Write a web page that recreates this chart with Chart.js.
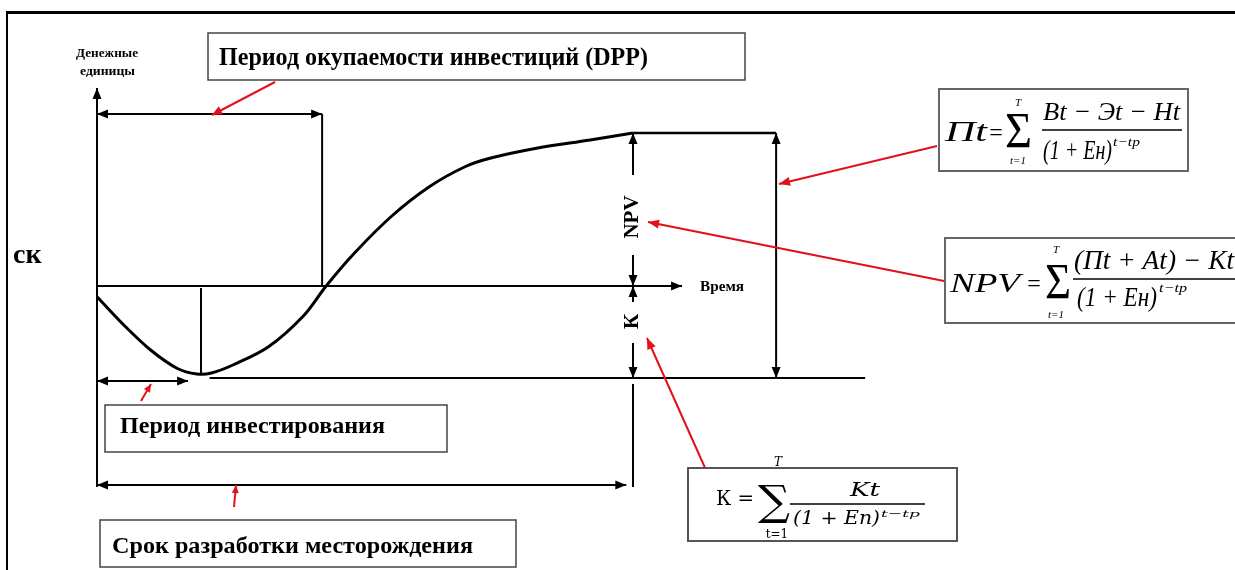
<!DOCTYPE html>
<html><head><meta charset="utf-8">
<script src="https://cdn.jsdelivr.net/npm/chart.js"></script>
<style>
html,body{margin:0;padding:0;background:#fff;}
#wrap{position:relative;width:1235px;height:570px;overflow:hidden;}
#frame{position:absolute;left:6px;top:11px;right:-5px;bottom:-5px;border-top:3px solid #000;border-left:2px solid #000;pointer-events:none;}
</style></head><body>
<div id="wrap"><canvas id="c"></canvas><div id="frame"></div></div>
<script>
// Cash-flow curve (time units, money units)
const curveT = [0, 1.0, 2.0, 3.0, 3.73, 4.27, 5.07, 6.4, 7.7, 8.55, 9.6, 11.0, 12.4, 13.73, 14.66, 16.4, 18.4, 20];
const curveV = [-0.43, -1.56, -2.56, -3.3, -3.52, -3.48, -3.16, -2.43, -1.2, 0, 1.31, 2.8, 3.97, 4.77, 5.11, 5.51, 5.84, 6.12];
// Key levels / times
const npvLevel = 6.12;
const kLevel = -3.68;
const dppTime = 8.4;
const dppLevel = 6.88;
const minTime = 3.88;
const devEnd = 20;
const investEnd = 3.4;
const axisXEnd = 21.83;
const axisYTop = 7.92;
// Texts
const labels = {
  yAxis: ['Денежные', 'единицы'],
  xAxis: 'Время',
  dpp: 'Период окупаемости инвестиций (DPP)',
  invest: 'Период инвестирования',
  dev: 'Срок разработки месторождения',
  npv: 'NPV',
  k: 'К',
  side: 'ск'
};

const RED = '#e3101a';
function line(c, x1, y1, x2, y2, w, col) {
  c.save(); c.strokeStyle = col || '#000'; c.lineWidth = w || 2; c.beginPath(); c.moveTo(x1, y1); c.lineTo(x2, y2); c.stroke(); c.restore();
}
function head(c, x, y, ang, len, half, col) {
  c.save(); c.fillStyle = col || '#000'; c.translate(x, y); c.rotate(ang);
  c.beginPath(); c.moveTo(0, 0); c.lineTo(-len, -half); c.lineTo(-len, half); c.closePath(); c.fill(); c.restore();
}
function arrow(c, x1, y1, x2, y2, startHead, endHead, w, col, len, half) {
  len = len || 11; half = half || 4.5;
  const a = Math.atan2(y2 - y1, x2 - x1);
  line(c, x1, y1, x2, y2, w, col);
  if (endHead) head(c, x2, y2, a, len, half, col);
  if (startHead) head(c, x1, y1, a + Math.PI, len, half, col);
}
function fitText(c, txt, x, yBase, width, font, col) {
  c.save(); c.font = font; c.fillStyle = col || '#000'; c.textBaseline = 'alphabetic';
  const w = c.measureText(txt).width;
  c.translate(x, yBase); c.scale(width / w, 1); c.textAlign = 'left'; c.fillText(txt, 0, 0); c.restore();
}
function text(c, txt, x, y, font, align, base, col) {
  c.save(); c.font = font; c.fillStyle = col || '#000'; c.textAlign = align || 'left'; c.textBaseline = base || 'alphabetic'; c.fillText(txt, x, y); c.restore();
}
function box(c, x, y, w, h, col, lw) {
  c.save(); c.fillStyle = '#fff'; c.fillRect(x, y, w, h); c.strokeStyle = col || '#555'; c.lineWidth = lw || 1.5; c.strokeRect(x, y, w, h); c.restore();
}
function rotText(c, txt, x, y, font) {
  c.save(); c.translate(x, y); c.rotate(-Math.PI / 2); c.font = font; c.fillStyle = '#000'; c.textAlign = 'center'; c.textBaseline = 'middle'; c.fillText(txt, 0, 0); c.restore();
}

const annot = {
  id: 'annot',
  afterDraw(chart) {
    const c = chart.ctx, xs = chart.scales.x, ys = chart.scales.y;
    const X = t => xs.getPixelForValue(t), Y = v => ys.getPixelForValue(v);
    const B = 'bold ';
    const F = '"Liberation Serif"';
    // Axes
    arrow(c, X(0), Y(-8.04), X(0), Y(axisYTop), false, true, 2);
    arrow(c, X(0), Y(0), X(axisXEnd), Y(0), false, true, 2);
    fitText(c, labels.yAxis[0], 76, 57, 62, B + '13px ' + F);
    fitText(c, labels.yAxis[1], 80, 75, 55, B + '13px ' + F);
    fitText(c, labels.xAxis, X(axisXEnd) + 18, Y(0) + 5, 44, B + '15px ' + F);
    // DPP
    arrow(c, X(0), Y(dppLevel), X(dppTime), Y(dppLevel), true, true, 2);
    line(c, X(dppTime), Y(dppLevel), X(dppTime), Y(0), 2);
    // minimum
    line(c, X(minTime), Y(-0.08), X(minTime), Y(-3.52), 2);
    // bottom line
    line(c, X(4.2), Y(kLevel), X(28.66), Y(kLevel), 2);
    // NPV dimension
    const xd = X(devEnd);
    arrow(c, xd, Y(4.44), xd, Y(npvLevel), false, true, 2);
    arrow(c, xd, Y(1.24), xd, Y(0), false, true, 2);
    rotText(c, labels.npv, xd, Y(2.76), B + '21px ' + F);
    // K dimension
    arrow(c, xd, Y(-0.64), xd, Y(0), false, true, 2);
    rotText(c, labels.k, xd, Y(-1.42), B + '21px ' + F);
    arrow(c, xd, Y(-2.28), xd, Y(kLevel), false, true, 2);
    // total dimension
    line(c, X(20), Y(npvLevel), X(25.34), Y(npvLevel), 2.5);
    arrow(c, X(25.34), Y(npvLevel), X(25.34), Y(kLevel), true, true, 2);
    // extensions
    line(c, xd, Y(-3.92), xd, Y(-8.04), 2);
    // invest & dev arrows
    arrow(c, X(0), Y(-3.8), X(investEnd), Y(-3.8), true, true, 2);
    arrow(c, X(0), Y(-7.96), X(19.75), Y(-7.96), true, true, 2);

    // Side text
    text(c, labels.side, 13, 263, B + '28px ' + F);

    // Label boxes
    box(c, 208, 33, 537, 47, '#444', 1.5);
    fitText(c, labels.dpp, 219, 65, 429, B + '25px ' + F);
    box(c, 105, 405, 342, 47, '#444', 1.5);
    fitText(c, labels.invest, 120, 433, 265, B + '23px ' + F);
    box(c, 100, 520, 416, 47, '#444', 1.5);
    fitText(c, labels.dev, 112, 553, 361, B + '23px ' + F);

    // Red callout arrows
    arrow(c, 275, 82, 212, 115, false, true, 2, RED, 10, 4.5);
    arrow(c, 141, 401, 151, 384, false, true, 2, RED, 8, 3.5);
    arrow(c, 234, 507, 236, 485, false, true, 2, RED, 8, 3.5);
    arrow(c, 937, 146, 779, 184, false, true, 2, RED, 11, 4.5);
    arrow(c, 944, 281, 648, 222, false, true, 2, RED, 11, 4.5);
    arrow(c, 706, 470, 647, 338, false, true, 2, RED, 11, 4.5);

    const IT = 'italic ';
    // Formula 1: Пt
    box(c, 939, 89, 249, 82, '#666', 2);
    fitText(c, 'Пt', 945, 141, 42, IT + '29px ' + F);
    text(c, '=', 996, 140, '24px ' + F, 'center');
    fitText(c, 'Σ', 1005, 147, 27, '50px ' + F);
    text(c, 'T', 1018, 106, IT + '11px ' + F, 'center');
    text(c, 't=1', 1018, 164, IT + '11px ' + F, 'center');
    fitText(c, 'Bt − Эt − Ht', 1043, 120, 137, IT + '26px ' + F);
    line(c, 1042, 130, 1182, 130, 1.5);
    fitText(c, '(1 + Eн)', 1043, 159, 69, IT + '28px ' + F);
    fitText(c, 't−tp', 1113, 146, 27, IT + '13px ' + F);

    // Formula 2: NPV
    box(c, 945, 238, 295, 85, '#666', 2);
    fitText(c, 'NPV', 950, 292, 70, IT + '27px ' + F);
    text(c, '=', 1034, 291, '24px ' + F, 'center');
    fitText(c, 'Σ', 1045, 298, 26, '50px ' + F);
    text(c, 'T', 1056, 253, IT + '11px ' + F, 'center');
    text(c, 't=1', 1056, 318, IT + '11px ' + F, 'center');
    fitText(c, '(Пt + At) − Kt', 1074, 269, 160, IT + '27px ' + F);
    line(c, 1073, 279, 1240, 279, 1.5);
    fitText(c, '(1 + Eн)', 1077, 306, 80, IT + '28px ' + F);
    fitText(c, 't−tp', 1159, 292, 28, IT + '13px ' + F);

    // Formula 3: K
    box(c, 688, 468, 269, 73, '#555', 2);
    fitText(c, 'К =', 716, 505, 38, '20px "DejaVu Serif"');
    fitText(c, '∑', 758, 515, 32, '42px "DejaVu Serif"');
    text(c, 'T', 778, 466, IT + '12px "DejaVu Serif"', 'center');
    text(c, 't=1', 777, 538, '12px "DejaVu Serif"', 'center');
    fitText(c, 'Kt', 850, 496, 30, IT + '19px "DejaVu Serif"');
    line(c, 790, 504, 925, 504, 1.3);
    fitText(c, '(1 + En)', 793, 524, 87, IT + '19px "DejaVu Serif"');
    fitText(c, 't−tp', 881, 517, 39, IT + '10px "DejaVu Serif"');
  }
};

new Chart(document.getElementById('c'), {
  type: 'scatter',
  data: { datasets: [{
    data: curveT.map((t, i) => ({ x: t, y: curveV[i] })),
    showLine: true, borderColor: '#000', borderWidth: 3, pointRadius: 0,
    tension: 0.35, cubicInterpolationMode: 'default', clip: false, fill: false
  }]},
  options: {
    responsive: true, maintainAspectRatio: false, animation: false, events: [],
    layout: { padding: { left: 97, right: 602, top: 133, bottom: 192 } },
    scales: {
      x: { type: 'linear', min: 0, max: 20, display: false },
      y: { type: 'linear', min: kLevel, max: npvLevel, display: false }
    },
    plugins: { legend: { display: false }, tooltip: { enabled: false } }
  },
  plugins: [annot]
});
</script>
</body></html>
